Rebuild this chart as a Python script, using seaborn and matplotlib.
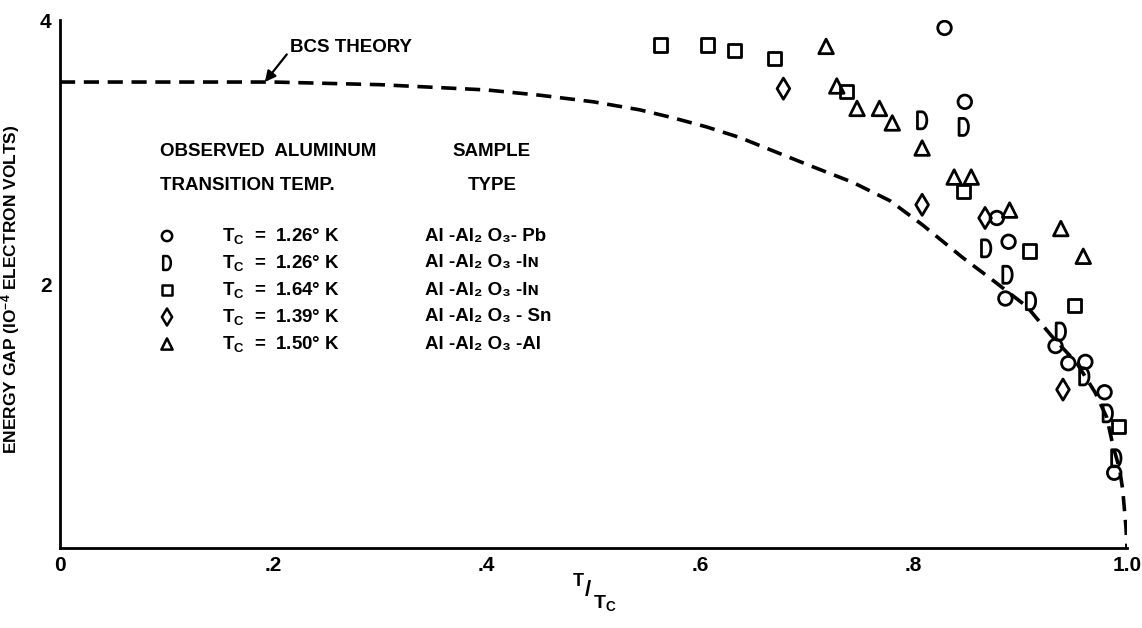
import numpy as np
import matplotlib
matplotlib.use("Agg")
import matplotlib.pyplot as plt
from matplotlib.path import Path
import seaborn as sns

# ---- data -------------------------------------------------------------
# BCS theoretical gap curve (reduced temperature, gap in 1e-4 eV)
bcs_t = [0.0, 0.1, 0.2, 0.3, 0.4, 0.45, 0.5, 0.543, 0.574, 0.606, 0.637,
         0.674, 0.705, 0.743, 0.778, 0.808, 0.846, 0.874, 0.906, 0.93,
         0.953, 0.970, 0.981, 0.987, 0.993, 0.996, 0.999, 1.0]
bcs_gap = [3.53, 3.53, 3.53, 3.51, 3.47, 3.43, 3.38, 3.32, 3.26, 3.19, 3.11,
           2.99, 2.89, 2.77, 2.63, 2.45, 2.20, 2.03, 1.83, 1.60,
           1.40, 1.18, 0.99, 0.77, 0.60, 0.44, 0.16, 0.0]

# Al-Al2O3-Pb, Tc = 1.26 K (circles)
pb_t = [0.829, 0.848, 0.878, 0.889, 0.886, 0.933, 0.945, 0.961, 0.979, 0.988]
pb_gap = [3.94, 3.38, 2.50, 2.32, 1.89, 1.53, 1.40, 1.41, 1.18, 0.57]

# Al-Al2O3-In, Tc = 1.26 K ("D" marks)
in1_t = [0.808, 0.847, 0.868, 0.888, 0.910, 0.938, 0.960, 0.982, 0.990]
in1_gap = [3.24, 3.19, 2.27, 2.07, 1.87, 1.64, 1.30, 1.02, 0.68]

# Al-Al2O3-In, Tc = 1.64 K (squares)
in2_t = [0.563, 0.607, 0.632, 0.670, 0.737, 0.847, 0.909, 0.951, 0.992]
in2_gap = [3.81, 3.81, 3.77, 3.71, 3.46, 2.70, 2.25, 1.84, 0.92]

# Al-Al2O3-Sn, Tc = 1.39 K (diamonds)
sn_t = [0.678, 0.808, 0.867, 0.940]
sn_gap = [3.48, 2.60, 2.50, 1.20]

# Al-Al2O3-Al, Tc = 1.50 K (triangles)
al_t = [0.718, 0.728, 0.747, 0.768, 0.780, 0.808, 0.838, 0.854, 0.890,
        0.938, 0.959]
al_gap = [3.80, 3.50, 3.33, 3.33, 3.22, 3.03, 2.81, 2.81, 2.56, 2.42, 2.21]

legend_tc = ["1.26° K", "1.26° K", "1.64° K", "1.39° K", "1.50° K"]
legend_sample = ["Al -Al₂ O₃- Pb", "Al -Al₂ O₃ -Iɴ", "Al -Al₂ O₃ -Iɴ",
                 "Al -Al₂ O₃ - Sn", "Al -Al₂ O₃ -Al"]

x_ticks = [0, 0.2, 0.4, 0.6, 0.8, 1.0]
x_ticklabels = ["0", ".2", ".4", ".6", ".8", "1.0"]
y_ticks = [2, 4]
y_ticklabels = ["2", "4"]

# ---- style ------------------------------------------------------------
sns.set_theme(style="white")
FONT = ["Liberation Sans", "DejaVu Sans"]
plt.rcParams["font.family"] = FONT
plt.rcParams["text.color"] = "black"
plt.rcParams["axes.labelcolor"] = "black"
plt.rcParams["mathtext.fontset"] = "custom"
plt.rcParams["mathtext.rm"] = "Liberation Sans:bold"
plt.rcParams["mathtext.sf"] = "Liberation Sans:bold"
plt.rcParams["mathtext.it"] = "Liberation Sans:bold"
plt.rcParams["mathtext.bf"] = "Liberation Sans:bold"

# "D" shaped marker: straight back, rounded front
th = np.linspace(np.pi / 2, -np.pi / 2, 31)
d_verts = ([(-0.55, 1.0)]
           + [(-0.05 + 0.6 * np.cos(a), np.sin(a)) for a in th]
           + [(-0.55, -1.0), (-0.55, 1.0)])
D_MARK = Path(d_verts, closed=True)

fig = plt.figure(figsize=(11.42, 6.28), dpi=100)
ax = fig.add_axes([60 / 1142, 1 - 548 / 628, 1067 / 1142, 528 / 628])

# BCS curve
sns.lineplot(x=bcs_t, y=bcs_gap, ax=ax, color="black", lw=2.6,
             estimator=None, sort=False, linestyle=(0, (4.2, 2.4)))

series = [
    (pb_t, pb_gap, "o", 95),
    (in1_t, in1_gap, D_MARK, 150),
    (in2_t, in2_gap, "s", 90),
    (sn_t, sn_gap, "d", 115),
    (al_t, al_gap, "^", 110),
]
for xs, ys, mk, sz in series:
    sns.scatterplot(x=xs, y=ys, ax=ax, marker=mk, s=sz,
                    facecolors="none", edgecolors="black", linewidths=2.0,
                    zorder=3)

ax.set_xlim(0, 1.0)
ax.set_ylim(0, 4)
ax.set_xticks(x_ticks, x_ticklabels)
ax.set_yticks(y_ticks, y_ticklabels)
ax.tick_params(axis="both", direction="in", length=12, width=1.5,
               labelsize=15, colors="black", pad=6)
for lab in ax.get_xticklabels() + ax.get_yticklabels():
    lab.set_fontweight("bold")
for side in ("top", "right"):
    ax.spines[side].set_visible(False)
for side in ("left", "bottom"):
    ax.spines[side].set_color("black")
    ax.spines[side].set_linewidth(2.0)

ax.set_ylabel(r"ENERGY GAP (IO$^{-4}$ ELECTRON VOLTS)", fontsize=12.5,
              fontweight="bold", color="black")
ax.yaxis.set_label_coords(-0.036, 0.49)

# x-axis label written as a slanted fraction T / T_C
fig.text(578 / 1142, 1 - 581 / 628, "T", fontsize=13, fontweight="bold",
         ha="center", va="center")
fig.text(588 / 1142, 1 - 591 / 628, "/", fontsize=16, fontweight="bold",
         ha="center", va="center")
fig.text(605 / 1142, 1 - 603 / 628, r"T$_{\mathrm{C}}$", fontsize=14,
         fontweight="bold", ha="center", va="center")

# BCS label with arrow
ax.annotate("BCS THEORY", xy=(0.192, 3.53), xytext=(0.2156, 3.79),
            fontsize=13.5, fontweight="bold", ha="left", va="center",
            color="black",
            arrowprops=dict(arrowstyle="-|>", color="black", lw=1.6,
                            mutation_scale=16, shrinkA=0, shrinkB=0,
                            relpos=(0.0, 0.35)))

# ---- key ---------------------------------------------------------------
def ax_xy(px, py):
    return (px - 60) / 1067, (548 - py) / 528

tk = dict(transform=ax.transAxes, fontsize=13.5, fontweight="bold",
          va="center", color="black")
ax.text(*ax_xy(160, 152), "OBSERVED  ALUMINUM", ha="left", **tk)
ax.text(*ax_xy(160, 186), "TRANSITION TEMP.", ha="left", **tk)
ax.text(*ax_xy(492, 152), "SAMPLE", ha="center", **tk)
ax.text(*ax_xy(492, 186), "TYPE", ha="center", **tk)

key_markers = ["o", D_MARK, "s", "d", "^"]
key_sizes = [55, 100, 55, 75, 65]
row_y = [236, 263, 290, 317, 344]
for mk, sz, py, tc, samp in zip(key_markers, key_sizes, row_y, legend_tc,
                                legend_sample):
    mx, my = ax_xy(167, py)
    ax.scatter([mx], [my], transform=ax.transAxes, marker=mk, s=sz,
               facecolors="none", edgecolors="black", linewidths=1.8,
               clip_on=False)
    ax.text(*ax_xy(222, py), r"T$_{\mathrm{C}}$  =  " + tc, ha="left", **tk)
    ax.text(*ax_xy(425, py), samp, ha="left", **tk)

fig.savefig("out.png", dpi=100, facecolor="white")
